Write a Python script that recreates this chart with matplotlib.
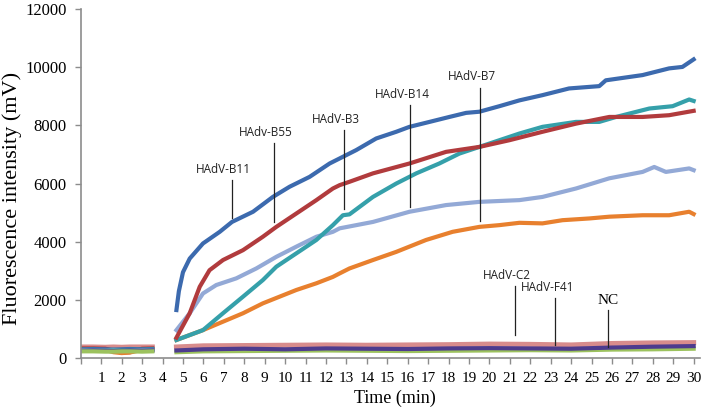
import numpy as np
import matplotlib.pyplot as plt

# time (min) and fluorescence (mV)
pre_t = [0.1, 0.6, 1.2, 1.6, 2.0, 2.4, 3.0, 3.5]
pre_b11 = [300, 310, 300, 290, 300, 310, 300, 310]
pre_b55 = [330, 330, 320, 250, 190, 200, 320, 330]
pre_b3 = [280, 280, 270, 280, 270, 280, 280, 290]
pre_b14 = [260, 260, 250, 250, 240, 250, 260, 260]
pre_b7 = [290, 290, 280, 200, 170, 190, 280, 290]
pre_c2 = [380, 380, 370, 380, 370, 380, 380, 380]
pre_f41 = [250, 260, 250, 240, 250, 260, 250, 260]
pre_nc = [230, 230, 220, 220, 230, 230, 220, 230]

b11_t = [4.68, 4.8, 5.0, 5.33, 5.98, 6.8, 7.4, 8.43, 9.4, 10.22, 11.2, 12.18, 13.0, 13.48, 14.46, 15.44,
         16.09, 17.07, 18.04, 18.86, 19.51, 20.49, 21.47, 22.6, 23.9, 25.38, 25.7, 27.5, 28.8, 29.45, 30.0]
b11_v = [1650, 2300, 2950, 3420, 3940, 4340, 4680, 5030, 5540, 5890, 6230, 6690, 6980, 7150, 7550, 7780,
         7950, 8120, 8290, 8430, 8470, 8660, 8860, 9040, 9270, 9350, 9550, 9730, 9960, 10010, 10270]

b55_t = [4.68, 5.33, 5.82, 6.3, 6.96, 7.94, 8.91, 9.57, 10.55, 11.53, 12.34, 12.67, 13.15, 14.3, 16.09,
         17.88, 19.51, 20.98, 22.6, 24.24, 25.87, 27.5, 28.8, 30.0]
b55_v = [700, 1540, 2450, 3020, 3370, 3710, 4170, 4510, 4970, 5430, 5830, 5945, 6060, 6350, 6690,
         7090, 7260, 7490, 7780, 8060, 8290, 8290, 8350, 8500]

b3_t = [4.68, 5.98, 6.96, 7.94, 8.91, 9.57, 10.55, 11.53, 12.34, 12.83, 13.15, 14.3, 15.44, 16.42, 17.55,
        18.53, 19.51, 20.49, 21.47, 22.6, 24.24, 25.38, 26.2, 27.83, 28.97, 29.78, 30.0]
b3_v = [620, 960, 1540, 2110, 2680, 3140, 3600, 4060, 4570, 4910, 4940, 5540, 6000, 6350, 6690,
        7030, 7260, 7490, 7720, 7950, 8120, 8120, 8290, 8580, 8660, 8890, 8840]

b14_t = [4.68, 5.33, 5.98, 6.63, 7.61, 8.59, 9.57, 10.55, 11.53, 12.34, 12.67, 14.3, 16.09, 17.88, 19.51,
         21.47, 22.6, 24.24, 25.87, 27.5, 28.07, 28.64, 29.78, 30.0]
b14_v = [960, 1540, 2220, 2510, 2740, 3080, 3480, 3830, 4170, 4340, 4460, 4680, 5030, 5260, 5370,
         5430, 5540, 5830, 6180, 6400, 6570, 6400, 6520, 6460]

b7_t = [4.68, 5.98, 6.96, 7.94, 8.91, 9.73, 10.55, 11.53, 12.34, 12.67, 13.15, 14.3, 15.44, 16.9, 18.2,
        19.51, 20.49, 21.47, 22.6, 23.58, 24.9, 25.87, 27.5, 28.8, 29.78, 30.0]
b7_v = [620, 960, 1250, 1540, 1880, 2110, 2340, 2570, 2790, 2910, 3080, 3370, 3650, 4060, 4340,
        4510, 4570, 4650, 4630, 4740, 4800, 4860, 4910, 4910, 5030, 4950]

low_t = [4.68, 6, 8, 10, 12, 14, 16, 18, 20, 22, 24, 26, 28, 30]
c2_v = [380, 420, 430, 440, 450, 440, 450, 460, 480, 470, 450, 500, 520, 530]
f41_v = [260, 300, 320, 300, 330, 320, 310, 330, 340, 330, 320, 360, 390, 410]
nc_v = [200, 230, 240, 250, 260, 250, 240, 250, 260, 270, 260, 290, 300, 320]

labels = ['HAdV-B11', 'HAdv-B55', 'HAdV-B3', 'HAdV-B14', 'HAdV-B7', 'HAdV-C2', 'HAdV-F41']
label_x = [7.4, 9.44, 12.88, 16.12, 19.56, 21.27, 23.23]
label_top = [6120, 7380, 7830, 8690, 9300, 2470, 2050]
label_bot = [4800, 4680, 5140, 5200, 4720, 790, 450]

plt.rcParams['font.family'] = 'Liberation Serif'
fig = plt.figure(figsize=(7.09, 4.12), dpi=100)
ax = fig.add_axes([0.114, 0.131, 0.873, 0.847])

lw = 3.0
ax.plot(pre_t, pre_c2, color='#d88c8c', lw=3.6)
ax.plot(pre_t, pre_b55, color='#b13b3d', lw=lw)
ax.plot(pre_t, pre_b7, color='#e8802e', lw=lw)
ax.plot(pre_t, pre_b11, color='#3c6aae', lw=lw)
ax.plot(pre_t, pre_b3, color='#35a0aa', lw=lw)
ax.plot(pre_t, pre_b14, color='#93a9d6', lw=lw)
ax.plot(pre_t, pre_f41, color='#4d3b8e', lw=lw)
ax.plot(pre_t, pre_nc, color='#9cc25e', lw=lw)

ax.plot(low_t, nc_v, color='#9cc25e', lw=lw)
ax.plot(low_t, c2_v, color='#d88c8c', lw=3.6)
ax.plot(low_t, f41_v, color='#4d3b8e', lw=lw)
ax.plot(b7_t, b7_v, color='#e8802e', lw=lw)
ax.plot(b14_t, b14_v, color='#93a9d6', lw=lw)
ax.plot(b3_t, b3_v, color='#35a0aa', lw=lw)
ax.plot(b55_t, b55_v, color='#b13b3d', lw=lw)
ax.plot(b11_t, b11_v, color='#3c6aae', lw=lw)

for i in range(len(labels)):
    ax.plot([label_x[i], label_x[i]], [label_bot[i], label_top[i]], color='#222222', lw=0.9)
    ax.text(label_x[i] - 0.4, label_top[i] + 150, labels[i], family='Open Sans', fontsize=8.5,
            ha='center', va='bottom', color='#222222')
ax.plot([25.79, 25.79], [390, 1650], color='#222222', lw=0.9)
ax.text(25.8, 1750, 'NC', fontsize=11, ha='center', va='bottom')

ax.set_xlim(0, 30.3)
ax.set_ylim(0, 12000)
ax.set_yticks(np.arange(0, 12001, 2000))
ax.set_xticks(range(0, 31))
ax.set_xticklabels([''] + [str(i) for i in range(1, 31)])
for s in ['top', 'right']:
    ax.spines[s].set_visible(False)
for s in ['left', 'bottom']:
    ax.spines[s].set_color('#8c8c8c')
    ax.spines[s].set_linewidth(1.2)
ax.tick_params(axis='both', color='#8c8c8c', length=4.3, width=1.0)
ax.tick_params(axis='y', labelsize=12, pad=6)
ax.tick_params(axis='x', labelsize=11, pad=6)

ax.set_xlabel('Time (min)', fontsize=13)
ax.xaxis.set_label_coords(0.508, -0.09)
ax.set_ylabel('Fluorescence intensity (mV)', fontsize=16)
ax.yaxis.set_label_coords(-0.095, 0.458)

plt.savefig('out.png', dpi=100)
